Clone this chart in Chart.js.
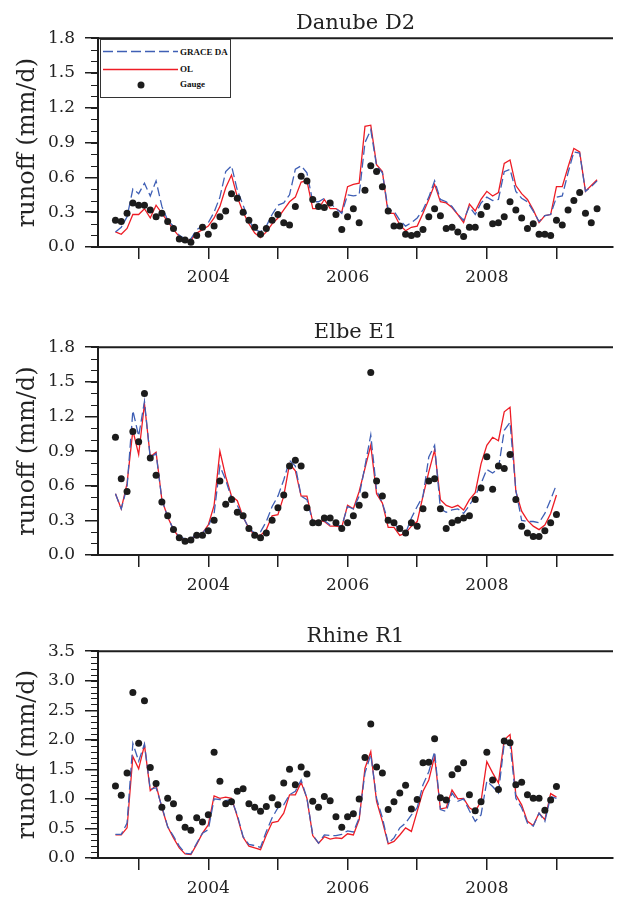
<!DOCTYPE html>
<html>
<head>
<meta charset="utf-8">
<title>Runoff: Danube, Elbe, Rhine</title>
<script src="https://cdn.jsdelivr.net/npm/chart.js@4.4.1/dist/chart.umd.min.js"></script>
<style>
	html, body { margin: 0; padding: 0; background: #fff; overflow: hidden; width: 617px; height: 898px; }
	canvas { position: absolute; left: 0; }
	.legend { position: absolute; left: 100px; top: 39px; width: 129px; height: 57px; border: 1px solid #333; background: #fff; font: bold 9px 'Liberation Serif', 'DejaVu Serif', serif; color: #111; }
	.legend span { position: absolute; left: 79px; line-height: 10px; white-space: nowrap; }
	.legend svg { position: absolute; left: 0; top: 0; }
</style>
</head>
<body>
<canvas id="danube" width="617" height="292" style="top:0px"></canvas>
<canvas id="elbe" width="617" height="291" style="top:309px"></canvas>
<canvas id="rhine" width="617" height="290" style="top:613px"></canvas>
<div class="legend">
	<svg width="129" height="57">
		<line x1="2" y1="11.5" x2="77" y2="11.5" stroke="#3f5fb5" stroke-width="1.3" stroke-dasharray="10 4"></line>
		<line x1="2" y1="29.5" x2="77" y2="29.5" stroke="#ee1c25" stroke-width="1.3"></line>
		<circle cx="40" cy="45" r="3.5" fill="#1c1c1c"></circle>
	</svg>
	<span style="top:6.7px">GRACE DA</span>
	<span style="top:24px">OL</span>
	<span style="top:38.5px">Gauge</span>
</div>
<script>
'use strict';

// monthly series, first value = September 2002
var startYear = 2002;
var startMonth = 9;

var yearTicks = [2003, 2004, 2005, 2006, 2007, 2008, 2009];
var yearLabels = ['', '2004', '', '2006', '', '2008', ''];

var seriesNames = ['GRACE DA', 'OL', 'Gauge'];

var danubeTicks = [0, 0.3, 0.6, 0.9, 1.2, 1.5, 1.8];
var elbeTicks = [0, 0.3, 0.6, 0.9, 1.2, 1.5, 1.8];
var rhineTicks = [0, 0.5, 1.0, 1.5, 2.0, 2.5, 3.0, 3.5];

var danubeGrace = [
	0.13, 0.17, 0.26, 0.50, 0.46, 0.55, 0.44, 0.57, 0.35, 0.23,
	0.18, 0.10, 0.07, 0.07, 0.15, 0.18, 0.21, 0.30, 0.43, 0.65,
	0.70, 0.49, 0.36, 0.23, 0.15, 0.13, 0.18, 0.28, 0.36, 0.38,
	0.45, 0.67, 0.70, 0.64, 0.39, 0.39, 0.42, 0.38, 0.33, 0.29,
	0.45, 0.44, 0.45, 0.90, 1.01, 0.70, 0.64, 0.32, 0.31, 0.23,
	0.18, 0.21, 0.25, 0.32, 0.43, 0.57, 0.41, 0.39, 0.35, 0.28,
	0.23, 0.35, 0.28, 0.38, 0.43, 0.40, 0.41, 0.65, 0.67, 0.48,
	0.42, 0.39, 0.31, 0.22, 0.27, 0.28, 0.43, 0.44, 0.64, 0.82,
	0.81, 0.48, 0.52, 0.57
];
var danubeOL = [
	0.13, 0.11, 0.16, 0.28, 0.28, 0.33, 0.25, 0.36, 0.29, 0.22,
	0.15, 0.09, 0.06, 0.06, 0.12, 0.15, 0.18, 0.25, 0.35, 0.51,
	0.62, 0.43, 0.30, 0.20, 0.12, 0.08, 0.13, 0.20, 0.25, 0.32,
	0.39, 0.43, 0.56, 0.57, 0.33, 0.33, 0.41, 0.33, 0.33, 0.30,
	0.52, 0.54, 0.55, 1.04, 1.05, 0.71, 0.65, 0.29, 0.29, 0.19,
	0.14, 0.17, 0.18, 0.29, 0.41, 0.54, 0.39, 0.38, 0.34, 0.28,
	0.21, 0.37, 0.31, 0.41, 0.48, 0.44, 0.47, 0.72, 0.75, 0.53,
	0.46, 0.41, 0.32, 0.21, 0.27, 0.28, 0.52, 0.52, 0.69, 0.85,
	0.82, 0.48, 0.53, 0.58
];
var danubeGauge = [
	0.23, 0.22, 0.29, 0.38, 0.36, 0.36, 0.32, 0.26, 0.29, 0.22,
	0.16, 0.07, 0.06, 0.04, 0.10, 0.17, 0.11, 0.18, 0.26, 0.31,
	0.46, 0.42, 0.30, 0.23, 0.17, 0.11, 0.16, 0.23, 0.28, 0.21,
	0.19, 0.35, 0.61, 0.57, 0.41, 0.35, 0.34, 0.38, 0.28, 0.15,
	0.26, 0.33, 0.21, 0.49, 0.70, 0.65, 0.52, 0.31, 0.18, 0.18,
	0.11, 0.10, 0.11, 0.15, 0.26, 0.33, 0.27, 0.16, 0.17, 0.13,
	0.09, 0.17, 0.17, 0.28, 0.35, 0.20, 0.21, 0.26, 0.39, 0.32,
	0.25, 0.16, 0.20, 0.11, 0.11, 0.10, 0.23, 0.19, 0.32, 0.40,
	0.47, 0.29, 0.21, 0.33
];

var elbeGrace = [
	0.53, 0.40, 0.59, 1.25, 1.03, 1.33, 0.84, 0.88, 0.48, 0.33,
	0.22, 0.16, 0.14, 0.14, 0.18, 0.19, 0.25, 0.36, 0.77, 0.65,
	0.49, 0.43, 0.33, 0.23, 0.19, 0.20, 0.29, 0.42, 0.51, 0.65,
	0.82, 0.77, 0.51, 0.48, 0.29, 0.29, 0.30, 0.26, 0.26, 0.25,
	0.42, 0.40, 0.51, 0.77, 1.04, 0.56, 0.45, 0.29, 0.27, 0.22,
	0.19, 0.32, 0.42, 0.51, 0.85, 0.95, 0.40, 0.37, 0.39, 0.40,
	0.36, 0.43, 0.51, 0.62, 0.74, 0.71, 0.75, 1.08, 1.15, 0.56,
	0.30, 0.29, 0.29, 0.28, 0.36, 0.48, 0.61
];
var elbeOL = [
	0.53, 0.40, 0.62, 1.08, 0.87, 1.31, 0.85, 0.89, 0.48, 0.33,
	0.22, 0.15, 0.13, 0.14, 0.17, 0.19, 0.26, 0.43, 0.90, 0.68,
	0.51, 0.47, 0.33, 0.23, 0.17, 0.17, 0.22, 0.34, 0.35, 0.51,
	0.79, 0.73, 0.51, 0.51, 0.29, 0.30, 0.29, 0.25, 0.25, 0.24,
	0.43, 0.40, 0.55, 0.75, 0.95, 0.53, 0.45, 0.24, 0.24, 0.17,
	0.19, 0.25, 0.29, 0.51, 0.72, 0.91, 0.48, 0.43, 0.41, 0.43,
	0.39, 0.48, 0.54, 0.79, 0.95, 1.02, 0.99, 1.24, 1.28, 0.55,
	0.38, 0.30, 0.25, 0.22, 0.26, 0.36, 0.52
];
var elbeGauge = [
	1.02, 0.66, 0.55, 1.07, 0.98, 1.40, 0.84, 0.69, 0.46, 0.34,
	0.22, 0.15, 0.12, 0.13, 0.17, 0.17, 0.21, 0.30, 0.64, 0.44,
	0.48, 0.37, 0.34, 0.23, 0.17, 0.15, 0.19, 0.30, 0.41, 0.52,
	0.77, 0.82, 0.77, 0.41, 0.28, 0.28, 0.32, 0.32, 0.28, 0.23,
	0.28, 0.34, 0.43, 0.52, 1.58, 0.64, 0.51, 0.30, 0.28, 0.23,
	0.19, 0.28, 0.25, 0.40, 0.64, 0.66, 0.40, 0.23, 0.28, 0.30,
	0.32, 0.34, 0.48, 0.58, 0.85, 0.57, 0.77, 0.75, 0.87, 0.48,
	0.25, 0.19, 0.16, 0.16, 0.21, 0.28, 0.35
];

var rhineGrace = [
	0.40, 0.40, 0.59, 1.94, 1.64, 1.93, 1.16, 1.19, 0.87, 0.53,
	0.37, 0.20, 0.08, 0.07, 0.25, 0.42, 0.48, 1.00, 0.99, 0.97,
	0.99, 0.73, 0.36, 0.23, 0.21, 0.18, 0.45, 0.68, 0.85, 0.90,
	1.07, 1.13, 1.32, 1.01, 0.39, 0.25, 0.39, 0.38, 0.38, 0.40,
	0.46, 0.44, 0.68, 1.44, 1.75, 1.01, 0.68, 0.25, 0.34, 0.51,
	0.59, 0.73, 0.85, 1.24, 1.46, 1.80, 0.82, 0.79, 1.10, 0.96,
	1.00, 0.80, 0.62, 0.73, 1.30, 1.21, 1.10, 1.94, 1.93, 1.01,
	0.85, 0.59, 0.54, 0.76, 0.62, 1.04, 1.01
];
var rhineOL = [
	0.39, 0.39, 0.51, 1.72, 1.51, 1.91, 1.14, 1.23, 0.85, 0.53,
	0.34, 0.17, 0.07, 0.06, 0.23, 0.42, 0.56, 1.05, 1.01, 1.03,
	1.01, 0.70, 0.35, 0.20, 0.17, 0.14, 0.39, 0.60, 0.62, 0.76,
	1.07, 1.07, 1.28, 1.01, 0.38, 0.25, 0.36, 0.32, 0.34, 0.33,
	0.41, 0.39, 0.65, 1.52, 1.80, 0.96, 0.62, 0.24, 0.28, 0.39,
	0.51, 0.45, 0.79, 1.13, 1.32, 1.72, 0.83, 0.85, 1.15, 1.00,
	1.01, 0.85, 0.79, 0.96, 1.63, 1.44, 1.27, 2.00, 2.09, 1.07,
	0.90, 0.62, 0.55, 0.76, 0.65, 1.09, 1.03
];
var rhineGauge = [
	1.22, 1.06, 1.44, 2.80, 1.94, 2.66, 1.53, 1.26, 0.86, 1.01,
	0.92, 0.68, 0.52, 0.47, 0.68, 0.61, 0.73, 1.79, 1.30, 0.92,
	0.95, 1.13, 1.17, 0.92, 0.86, 0.79, 0.87, 1.02, 0.90, 1.27,
	1.50, 1.24, 1.54, 1.42, 0.96, 0.86, 1.04, 0.97, 0.70, 0.52,
	0.70, 0.75, 1.00, 1.70, 2.27, 1.54, 1.44, 0.82, 0.95, 1.10,
	1.23, 0.83, 0.99, 1.61, 1.62, 2.02, 1.02, 0.98, 1.41, 1.51,
	1.61, 1.07, 0.80, 0.95, 1.79, 1.32, 1.16, 1.98, 1.95, 1.24,
	1.28, 1.07, 1.01, 1.01, 0.81, 0.98, 1.21
];

var axisColor = '#1e1e1e';
var fontFamily = "'DejaVu Serif', serif";

// minor ticks on the y axis plus the top frame line
var frameTicks = {
	id: 'frameTicks',
	afterDraw: function (chart, args, opts) {
		var area = chart.chartArea;
		var scale = chart.scales.y;
		var ctx = chart.ctx;
		var count = Math.round((scale.max - scale.min) / opts.minorStep);

		ctx.save();
		ctx.strokeStyle = axisColor;
		ctx.lineWidth = 1.2;
		ctx.beginPath();
		for (var i = 0; i <= count; i++) {
			var py = Math.round(scale.getPixelForValue(scale.min + i * opts.minorStep)) + 0.5;
			ctx.moveTo(area.left - 7, py);
			ctx.lineTo(area.left, py);
		}
		ctx.stroke();

		ctx.lineWidth = 2;
		ctx.beginPath();
		ctx.moveTo(area.left - 1, area.top);
		ctx.lineTo(area.right, area.top);
		ctx.stroke();
		ctx.restore();
	},
};

function toPoints(values) {
	return values.map(function (v, i) {
		return { x: startYear + (startMonth - 1 + i) / 12, y: v };
	});
}

function renderPanel(canvasId, title, grace, ol, gauge, yTicks, yMax, minorStep) {
	var canvas = document.getElementById(canvasId);

	return new Chart(canvas, {
		type: 'line',
		data: {
			datasets: [
				{
					label: seriesNames[2],
					data: toPoints(gauge),
					showLine: false,
					pointRadius: 3.5,
					pointBackgroundColor: '#1c1c1c',
					pointBorderWidth: 0,
				},
				{
					label: seriesNames[0],
					data: toPoints(grace),
					borderColor: '#3f5fb5',
					borderWidth: 1.3,
					borderDash: [9, 4],
					pointRadius: 0,
					tension: 0,
				},
				{
					label: seriesNames[1],
					data: toPoints(ol),
					borderColor: '#ee1c25',
					borderWidth: 1.3,
					pointRadius: 0,
					tension: 0,
				},
			],
		},
		options: {
			responsive: false,
			animation: false,
			devicePixelRatio: 1,
			layout: {
				padding: 0,
			},
			plugins: {
				legend: {
					display: false,
				},
				tooltip: {
					enabled: false,
				},
				title: {
					display: true,
					text: title,
					fullSize: false,
					color: '#222',
					font: {
						family: fontFamily,
						size: 21,
						weight: 'normal',
					},
					padding: {
						top: 11,
						bottom: 2,
					},
				},
				frameTicks: {
					minorStep: minorStep,
				},
			},
			scales: {
				x: {
					type: 'linear',
					min: 2002.416,
					max: 2009.812,
					afterFit: function (scale) {
						scale.height = 45;
					},
					afterBuildTicks: function (scale) {
						scale.ticks = yearTicks.map(function (v) {
							return { value: v };
						});
					},
					grid: {
						drawOnChartArea: false,
						drawTicks: true,
						tickLength: 12,
						color: axisColor,
						lineWidth: 1.5,
					},
					border: {
						display: true,
						color: axisColor,
						width: 2,
					},
					ticks: {
						autoSkip: false,
						maxRotation: 0,
						padding: 8,
						color: '#222',
						font: {
							family: fontFamily,
							size: 17,
						},
						callback: function (value, index) {
							return yearLabels[index];
						},
					},
				},
				y: {
					min: 0,
					max: yMax,
					afterFit: function (scale) {
						scale.width = 98;
					},
					afterBuildTicks: function (scale) {
						scale.ticks = yTicks.map(function (v) {
							return { value: v };
						});
					},
					grid: {
						drawOnChartArea: false,
						drawTicks: true,
						tickLength: 13,
						color: axisColor,
						lineWidth: 1.5,
					},
					border: {
						display: true,
						color: axisColor,
						width: 2,
					},
					title: {
						display: true,
						text: 'runoff (mm/d)',
						color: '#222',
						font: {
							family: fontFamily,
							size: 24,
						},
						padding: {
							top: 13,
							bottom: 0,
						},
					},
					ticks: {
						padding: 10,
						color: '#222',
						font: {
							family: fontFamily,
							size: 17,
						},
						callback: function (value) {
							return Number(value).toFixed(1);
						},
					},
				},
			},
		},
		plugins: [frameTicks],
	});
}

renderPanel('danube', 'Danube D2', danubeGrace, danubeOL, danubeGauge, danubeTicks, 1.8, 0.1);
renderPanel('elbe', 'Elbe E1', elbeGrace, elbeOL, elbeGauge, elbeTicks, 1.8, 0.1);
renderPanel('rhine', 'Rhine R1', rhineGrace, rhineOL, rhineGauge, rhineTicks, 3.5, 0.1);
</script>
</body>
</html>
